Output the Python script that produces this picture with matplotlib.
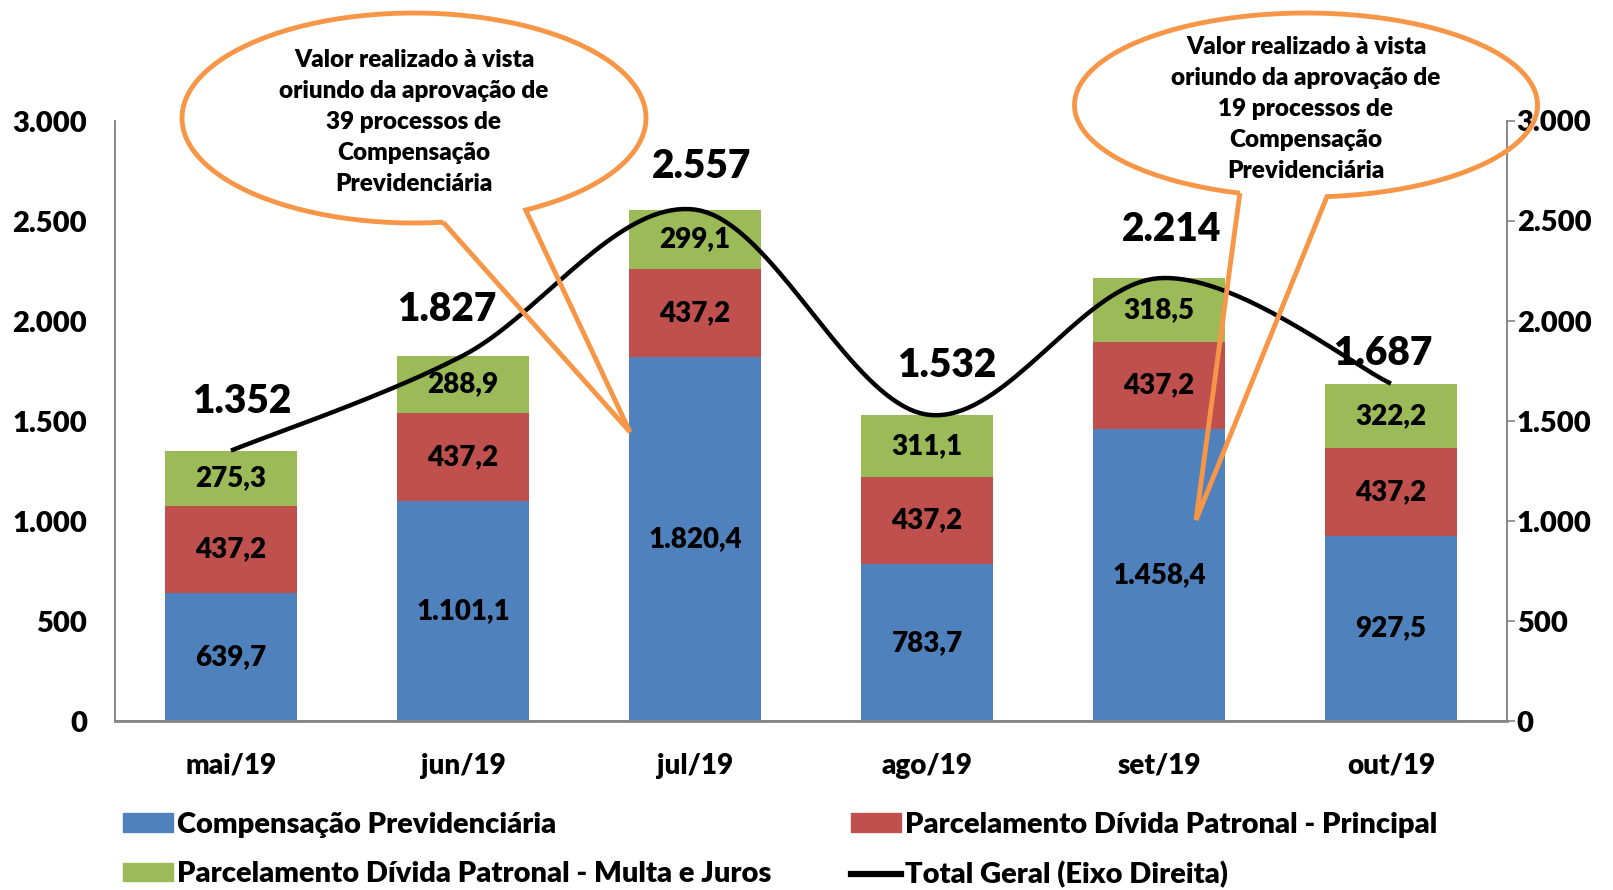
import numpy as np
import matplotlib
matplotlib.use("Agg")
import matplotlib.pyplot as plt
from matplotlib.path import Path
from matplotlib.patches import PathPatch, Patch
from matplotlib.lines import Line2D

plt.rcParams['font.family'] = ['Lato', 'DejaVu Sans']
plt.rcParams['font.weight'] = 'heavy'

# dados (R$ milhões)
meses = ["mai/19", "jun/19", "jul/19", "ago/19", "set/19", "out/19"]
compensacao = [639.7, 1101.1, 1820.4, 783.7, 1458.4, 927.5]
principal = [437.2, 437.2, 437.2, 437.2, 437.2, 437.2]
multa_juros = [275.3, 288.9, 299.1, 311.1, 318.5, 322.2]
total_geral = [1352, 1827, 2557, 1532, 2214, 1687]
yticks = [0, 500, 1000, 1500, 2000, 2500, 3000]

nomes = ["Compensação Previdenciária",
         "Parcelamento Dívida Patronal - Principal",
         "Parcelamento Dívida Patronal - Multa e Juros",
         "Total Geral (Eixo Direita)"]

balao1 = "Valor realizado à vista\noriundo da aprovação de\n39 processos de\nCompensação\nPrevidenciária"
balao2 = "Valor realizado à vista\noriundo da aprovação de\n19 processos de\nCompensação\nPrevidenciária"

# deslocamento (pt) dos rotulos do total, como no grafico original
desl_x = [8, -12, 5, 14, 9, -6]
desl_y = [35, 33, 31, 35, 35, 22]

azul = "#4F81BD"
vermelho = "#C0504D"
verde = "#9BBB59"
laranja = "#F79646"
cinza = "#868686"

W, H = 1613, 890


def fmt_br(v, dec=1):
    s = f"{v:,.{dec}f}"
    return s.replace(",", "X").replace(".", ",").replace("X", ".")


def suaviza(xs, ys, n=40):
    # curva suavizada tipo Excel (Catmull-Rom) so para o desenho da linha
    xs = np.asarray(xs, float)
    ys = np.asarray(ys, float)
    px = np.concatenate([[xs[0]], xs, [xs[-1]]])
    py = np.concatenate([[ys[0]], ys, [ys[-1]]])
    outx, outy = [], []
    t = np.linspace(0, 1, n)
    for i in range(1, len(px) - 2):
        p0, p1, p2, p3 = [np.array([px[j], py[j]]) for j in (i - 1, i, i + 1, i + 2)]
        c1 = p1 + (p2 - p0) / 6
        c2 = p2 - (p3 - p1) / 6
        pts = ((1 - t) ** 3)[:, None] * p1 + (3 * (1 - t) ** 2 * t)[:, None] * c1 \
            + (3 * (1 - t) * t ** 2)[:, None] * c2 + (t ** 3)[:, None] * p2
        outx.extend(pts[:, 0])
        outy.extend(pts[:, 1])
    return outx, outy


def balao(fig, cx, cy, a, b, t1, t2, ponta):
    # contorno do balao em pixels (y para baixo), convertido para fracao da figura
    ang = np.radians(np.linspace(t1, t2 + 360, 200))
    xs = cx + a * np.cos(ang)
    ys = cy + b * np.sin(ang)
    xs = np.concatenate([xs, [ponta[0]], [xs[0]]])
    ys = np.concatenate([ys, [ponta[1]], [ys[0]]])
    verts = np.column_stack([xs / W, 1 - ys / H])
    patch = PathPatch(Path(verts), facecolor="none", edgecolor=laranja, lw=3.5,
                      transform=fig.transFigure, zorder=10)
    fig.add_artist(patch)


fig = plt.figure(figsize=(W / 100, H / 100), dpi=100)
ax = fig.add_axes([115 / W, 1 - 721 / H, (1507 - 115) / W, 600 / H])

x = np.arange(len(meses))
larg = 0.57
base2 = np.add(compensacao, principal)
ax.bar(x, compensacao, width=larg, color=azul, zorder=2)
ax.bar(x, principal, width=larg, bottom=compensacao, color=vermelho, zorder=2)
ax.bar(x, multa_juros, width=larg, bottom=base2, color=verde, zorder=2)

for i in range(len(meses)):
    ax.text(x[i], compensacao[i] / 2, fmt_br(compensacao[i]), ha="center", va="center",
            fontsize=20, zorder=3)
    ax.text(x[i], compensacao[i] + principal[i] / 2, fmt_br(principal[i]), ha="center",
            va="center", fontsize=20, zorder=3)
    ax.text(x[i], base2[i] + multa_juros[i] / 2, fmt_br(multa_juros[i]), ha="center",
            va="center", fontsize=20, zorder=3)
    ax.annotate(fmt_br(total_geral[i], 0), (x[i], total_geral[i]),
                xytext=(desl_x[i], desl_y[i]), textcoords="offset points",
                ha="center", va="center", fontsize=28, zorder=6)

ax.set_xlim(-0.5, len(meses) - 0.5)
ax.set_ylim(0, 3000)
ax.set_yticks(yticks)
ax.set_yticklabels([fmt_br(v, 0) for v in yticks], fontsize=21)
ax.set_xticks(x)
ax.set_xticklabels(meses, fontsize=20)
ax.tick_params(axis="y", length=0, pad=20)
ax.tick_params(axis="x", length=0, pad=23)
ax.spines["top"].set_visible(False)
for s in ["left", "right", "bottom"]:
    ax.spines[s].set_color(cinza)
    ax.spines[s].set_linewidth(1.2)
ax.spines["bottom"].set_linewidth(2)

ax2 = ax.twinx()
ax2.set_ylim(0, 3000)
ax2.set_yticks(yticks)
ax2.set_yticklabels([fmt_br(v, 0) for v in yticks], fontsize=21)
ax2.tick_params(axis="y", length=6, width=1.2, color=cinza, pad=1)
ax2.spines["top"].set_visible(False)
for s in ["left", "right", "bottom"]:
    ax2.spines[s].set_color(cinza)
    ax2.spines[s].set_linewidth(1.2)
lx, ly = suaviza(x, total_geral)
ax2.plot(lx, ly, color="black", lw=3.2, solid_capstyle="butt", zorder=5)

balao(fig, 414, 118, 232, 105, 82.8, 61.2, (630, 432))
fig.text(414 / W, 1 - 122 / H, balao1, ha="center", va="center", fontsize=17.5,
         linespacing=1.5)
balao(fig, 1306, 105, 231.5, 92, 106.6, 84.8, (1196, 520))
fig.text(1306 / W, 1 - 109 / H, balao2, ha="center", va="center", fontsize=17.5,
         linespacing=1.5)

# legenda em duas colunas posicionadas como no original
col1 = fig.legend([Patch(color=azul), Patch(color=verde)], [nomes[0], nomes[2]],
                  loc="upper left", bbox_to_anchor=(123 / W, 1 - 812 / H),
                  frameon=False, fontsize=21, borderpad=0, borderaxespad=0,
                  handlelength=1.7, handleheight=0.6, handletextpad=0.15,
                  labelspacing=0.8)
col2 = fig.legend([Patch(color=vermelho), Line2D([0], [0], color="black", lw=4.5)],
                  [nomes[1], nomes[3]],
                  loc="upper left", bbox_to_anchor=(851 / W, 1 - 812 / H),
                  frameon=False, fontsize=21, borderpad=0, borderaxespad=0,
                  handlelength=1.7, handleheight=0.6, handletextpad=0.15,
                  labelspacing=0.8)

fig.savefig("out.png", dpi=100)
